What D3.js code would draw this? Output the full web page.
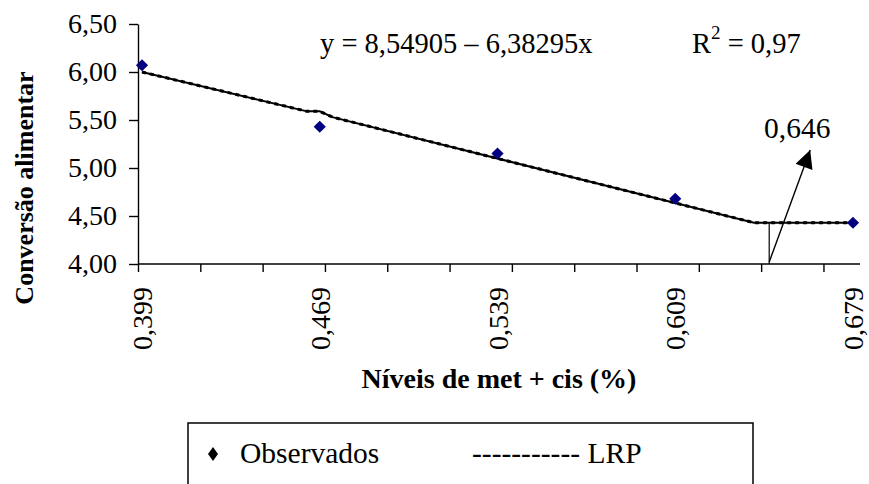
<!DOCTYPE html>
<html>
<head>
<meta charset="utf-8">
<script src="https://cdn.jsdelivr.net/npm/d3@7"></script>
<style>
  body { margin: 0; background: #fff; }
  svg { display: block; }
</style>
</head>
<body>
<svg id="chart" width="869" height="484"></svg>
<script>
// Observed feed conversion at each met + cis level
const levels = [0.399, 0.469, 0.539, 0.609, 0.679];
const observed = [6.07, 5.43, 5.15, 4.68, 4.43];
const levelLabels = ["0,399", "0,469", "0,539", "0,609", "0,679"];

// Linear response plateau (LRP) fitted line
const lrpLevels = [0.399, 0.464, 0.469, 0.474, 0.640, 0.679];
const lrpValues = [6.00, 5.59, 5.59, 5.53, 4.43, 4.43];

// Plateau break point
const breakLevel = 0.646;
const breakLabel = "0,646";

const yTicks = [4.00, 4.50, 5.00, 5.50, 6.00, 6.50];
const equationText = "y = 8,54905 – 6,38295x";
const r2Text = "0,97";

const FONT = '"Times New Roman", Times, "Liberation Serif", Tinos, "DejaVu Serif", serif';

const svg = d3.select("#chart");

const x = d3.scaleLinear().domain([0.399, 0.679]).range([142, 853]);
const y = d3.scaleLinear().domain([4.0, 6.5]).range([264, 24]);

const axisStart = x.invert(138), axisEnd = x.invert(860);
const minorStep = 0.02454;
const xTickVals = d3.range(12).map(i => axisStart + i * minorStep);

function serif(sel, size, weight) {
  return sel.attr("font-family", FONT).style("font-family", FONT)
    .style("font-size", size + "px").style("font-weight", weight || "normal")
    .attr("fill", "#000");
}

// X axis: line and tick marks
const xAxis = svg.append("g")
  .attr("transform", `translate(0,${y(4.0)})`)
  .call(d3.axisBottom(x).tickValues(xTickVals).tickSize(8).tickSizeOuter(0).tickFormat(""));
xAxis.select(".domain").attr("d", `M${x(axisStart)},0H${x(axisEnd)}`);
xAxis.selectAll("path, line").attr("stroke", "#000").attr("stroke-width", 1.4);

// X axis labels (rotated)
svg.append("g").selectAll("text")
  .data(levels)
  .join("text")
  .attr("transform", d => `translate(${x(d) + 10},${y(4.0) + 23}) rotate(-90)`)
  .attr("text-anchor", "end")
  .call(serif, 28)
  .text((d, i) => levelLabels[i]);

// Y axis
const yAxis = svg.append("g")
  .attr("transform", `translate(${x(axisStart)},0)`)
  .call(d3.axisLeft(y).tickValues(yTicks).tickSize(9).tickSizeOuter(0).tickPadding(12)
    .tickFormat(d => d.toFixed(2).replace(".", ",")));
yAxis.attr("font-family", FONT);
yAxis.selectAll("path, line").attr("stroke", "#000").attr("stroke-width", 1.4);
yAxis.selectAll("text").call(serif, 28);

// LRP line: solid core with a short-dash overlay
const line = d3.line().x((d, i) => x(lrpLevels[i])).y(d => y(d));
svg.append("path").datum(lrpValues)
  .attr("d", line).attr("fill", "none").attr("stroke", "#000").attr("stroke-width", 2);
svg.append("path").datum(lrpValues)
  .attr("d", line).attr("fill", "none").attr("stroke", "#000").attr("stroke-width", 3)
  .attr("stroke-dasharray", "4 4");

// Break point marker and arrow
const bx = x(breakLevel);
svg.append("line")
  .attr("x1", bx).attr("x2", bx)
  .attr("y1", y(d3.min(lrpValues))).attr("y2", y(4.0))
  .attr("stroke", "#000").attr("stroke-width", 1.2);

const defs = svg.append("defs");
defs.append("marker")
  .attr("id", "arrowHead")
  .attr("viewBox", "0 0 10 10")
  .attr("refX", 10).attr("refY", 5)
  .attr("markerWidth", 22).attr("markerHeight", 18)
  .attr("markerUnits", "userSpaceOnUse")
  .attr("orient", "auto")
  .append("path").attr("d", "M0,0L10,5L0,10Z").attr("fill", "#000");

svg.append("line")
  .attr("x1", bx).attr("y1", y(4.0) - 2)
  .attr("x2", bx + 41).attr("y2", y(4.0) - 114)
  .attr("stroke", "#000").attr("stroke-width", 1.4)
  .attr("marker-end", "url(#arrowHead)");

svg.append("text")
  .attr("x", bx + 28).attr("y", 138)
  .attr("text-anchor", "middle")
  .call(serif, 29.5)
  .text(breakLabel);

// Observed points
const diamond = d3.symbol().type(d3.symbolSquare).size(74);
svg.append("g").selectAll("path")
  .data(observed)
  .join("path")
  .attr("d", diamond)
  .attr("transform", (d, i) => `translate(${x(levels[i])},${y(d)}) rotate(45)`)
  .attr("fill", "#000080");

// Regression equation and R²
svg.append("text")
  .attr("x", 320).attr("y", 53)
  .call(serif, 28.5)
  .text(equationText);

const r2 = svg.append("text").attr("x", 692).attr("y", 53).call(serif, 28.5);
r2.append("tspan").text("R");
r2.append("tspan").attr("dy", -14).style("font-size", "19px").text("2");
r2.append("tspan").attr("dy", 14).text(" = " + r2Text);

// Axis titles
svg.append("text")
  .attr("transform", "translate(33,188) rotate(-90)")
  .attr("text-anchor", "middle")
  .call(serif, 26, "bold")
  .text("Conversão alimentar");

svg.append("text")
  .attr("x", 499).attr("y", 388)
  .attr("text-anchor", "middle")
  .call(serif, 28, "bold")
  .text("Níveis de met + cis (%)");

// Legend
const legend = svg.append("g");
legend.append("rect")
  .attr("x", 188).attr("y", 423).attr("width", 565).attr("height", 80)
  .attr("fill", "#fff").attr("stroke", "#000").attr("stroke-width", 1.5);
legend.append("path")
  .attr("d", "M0,-7L5,0L0,7L-5,0Z")
  .attr("transform", "translate(213,454)")
  .attr("fill", "#000");
legend.append("text").attr("x", 240).attr("y", 463).call(serif, 29.5).text("Observados");
legend.append("text").attr("x", 472).attr("y", 463).call(serif, 29.5).text("----------- LRP");
</script>
</body>
</html>
